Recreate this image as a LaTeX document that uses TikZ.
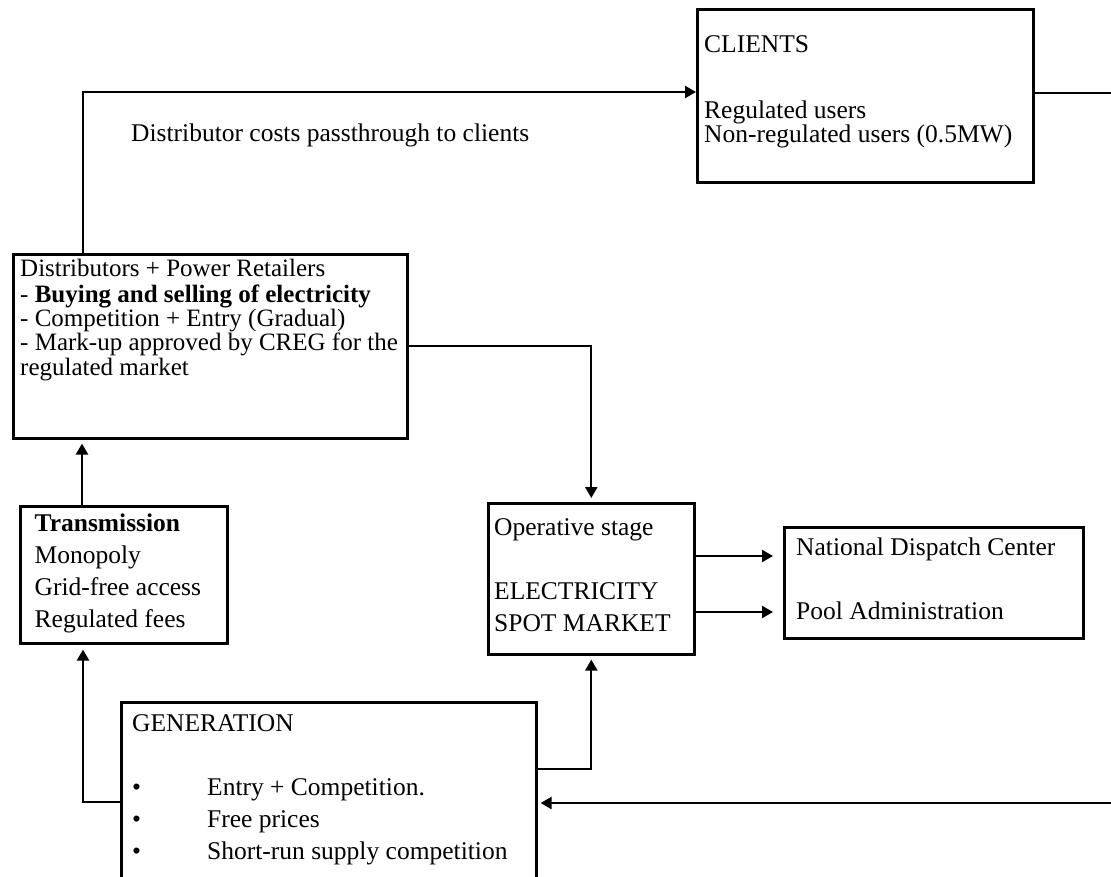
\documentclass[tikz,border=0pt]{standalone}
\usepackage{fontspec}
\setmainfont{Liberation Serif}
\usetikzlibrary{arrows.meta}
\begin{document}
\begin{tikzpicture}[x=1pt,y=-1pt,
  box/.style={draw, line width=2.6pt, anchor=north west, inner sep=0pt},
  conn/.style={line width=2.3pt},
  arr/.style={conn, -{Triangle[length=11pt,width=12pt]}},
  txt/.style={anchor=north west, inner sep=0pt, align=left, font=\fontsize{25.5}{32}\selectfont}]
\useasboundingbox (0,0) rectangle (1111,877);
\clip (0,0) rectangle (1111,877);
% boxes
\node[box, minimum width=336pt, minimum height=173pt] (cli) at (696,8) {};
\node[box, minimum width=394pt, minimum height=184pt] (dist) at (12,253) {};
\node[box, minimum width=207pt, minimum height=137pt] (trans) at (19,505) {};
\node[box, minimum width=206pt, minimum height=151pt] (spot) at (487,502) {};
\node[box, minimum width=299pt, minimum height=111pt] (nat) at (783,526) {};
\node[box, minimum width=415pt, minimum height=220pt] (gen) at (120,701) {};
% texts
\node[txt, font=\fontsize{25.5}{23.5}\selectfont] (cli-t) at (704,35.6)
  {\strut CLIENTS\\[40.5pt] Regulated users\\ Non-regulated users (0.5MW)};
\node[txt, font=\fontsize{25}{24.2}\selectfont] (dist-t) at (20,259)
  {\strut Distributors + Power Retailers\\ - \textbf{Buying and selling of electricity}\\ - Competition + Entry (Gradual)\\ - Mark-up approved by CREG for the\\ regulated market};
\node[txt] (trans-t) at (34.5,508.6)
  {\strut\textbf{Transmission}\\ Monopoly\\ Grid-free access\\ Regulated fees};
\node[txt] (spot-t) at (494,512.6)
  {\strut Operative stage\\[32pt] ELECTRICITY\\ SPOT MARKET};
\node[txt] (nat-t) at (796,532.6)
  {\strut National Dispatch Center\\[32pt] Pool Administration};
\node[txt] (gen-t) at (132,709.3)
  {\strut GENERATION\\[32pt] \makebox[75pt][l]{•}Entry + Competition.\\ \makebox[75pt][l]{•}Free prices\\ \makebox[75pt][l]{•}Short-run supply competition};
\node[anchor=base west, inner sep=0pt, font=\fontsize{25.5}{32}\selectfont] (lab) at (131,142)
  {Distributor costs passthrough to clients};
% free ends
\coordinate (outR) at (1111,93);
\coordinate (inR) at (1111,803);
% connectors
\draw[arr] (83,0 |- dist.north) |- (cli.west |- 0,92);
\draw[conn] (cli.east |- outR) -- (outR);
\draw[arr, shorten >=4pt] (dist.east |- 0,346) -| (spot.north);
\draw[arr, shorten >=4pt] (82,0 |- trans.north) -- (82,0 |- dist.south);
\draw[arr, shorten >=5pt] (gen.west |- 0,802) -| (83,0 |- trans.south);
\draw[arr, shorten >=4pt] (gen.east |- 0,769) -| (spot.south);
\draw[arr, shorten >=10pt] (spot.east |- 0,556) -- (nat.west |- 0,556);
\draw[arr, shorten >=10pt] (spot.east |- 0,612) -- (nat.west |- 0,612);
\draw[arr, shorten >=3pt] (inR) -- (gen.east |- inR);
\end{tikzpicture}
\end{document}
